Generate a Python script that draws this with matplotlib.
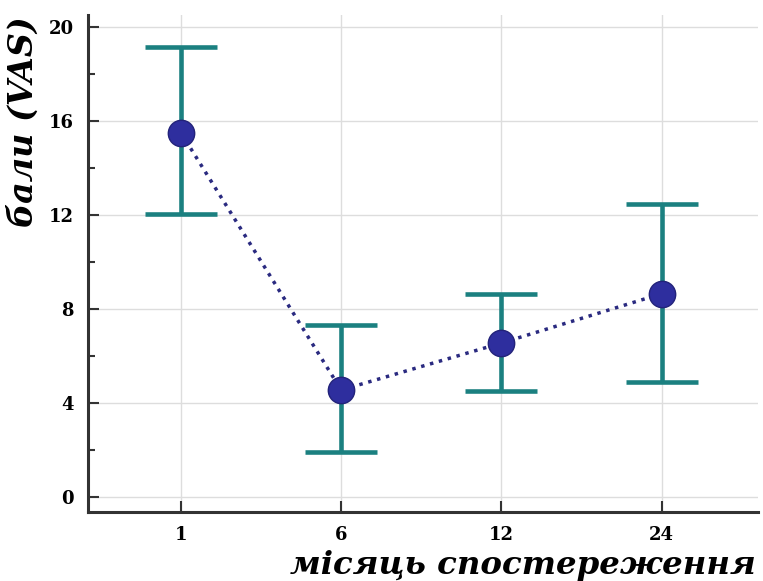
import matplotlib
matplotlib.use("Agg")
import matplotlib.pyplot as plt
from matplotlib.ticker import MultipleLocator

# months of observation and VAS scores (mean with error range)
months = ["1", "6", "12", "24"]
means = [15.5, 4.55, 6.55, 8.65]
upper = [19.15, 7.3, 8.65, 12.45]
lower = [12.05, 1.9, 4.5, 4.9]

teal = "#1b8080"
dot = "#2e2e9e"

plt.rcParams['font.family'] = ['DejaVu Serif']

fig = plt.figure(figsize=(7.63, 5.81), dpi=100)
ax = fig.add_axes([0.1153, 0.1188, 0.878, 0.855])

x = list(range(len(months)))
err_lo = [m - l for m, l in zip(means, lower)]
err_hi = [u - m for m, u in zip(means, upper)]

ax.errorbar(x, means, yerr=[err_lo, err_hi], fmt='none', ecolor=teal,
            elinewidth=3.3, capsize=26, capthick=3.3, zorder=3)
ax.plot(x, means, linestyle=':', color='#2a2a80', linewidth=2.5, zorder=4)
ax.plot(x, means, 'o', markersize=19, markerfacecolor=dot,
        markeredgecolor='#23237a', markeredgewidth=1, zorder=5)

ax.set_xlim(-0.58, 3.6)
ax.set_ylim(-0.64, 20.5)
ax.set_xticks(x)
ax.set_xticklabels(months)
ax.yaxis.set_major_locator(MultipleLocator(4))
ax.yaxis.set_minor_locator(MultipleLocator(2))

ax.grid(True, color='#dddddd', linewidth=1)
ax.set_axisbelow(True)
for s in ['top', 'right']:
    ax.spines[s].set_visible(False)
for s in ['left', 'bottom']:
    ax.spines[s].set_linewidth(2.2)
    ax.spines[s].set_color('#333333')

ax.tick_params(axis='both', which='major', direction='in', length=8, width=1.5,
               color='#333333', labelsize=13, pad=10)
ax.tick_params(axis='y', which='minor', direction='in', length=5, width=1.5,
               color='#333333')
for lab in ax.get_xticklabels() + ax.get_yticklabels():
    lab.set_fontweight('bold')

fig.text(0.03, 0.79, "бали (VAS)", rotation=90, ha='center', va='center',
         fontsize=24, fontweight='bold', fontstyle='italic')
fig.text(0.99, 0.027, "місяць спостереження", ha='right', va='center',
         fontsize=23.3, fontweight='bold', fontstyle='italic')

fig.savefig("out.png", dpi=100)
